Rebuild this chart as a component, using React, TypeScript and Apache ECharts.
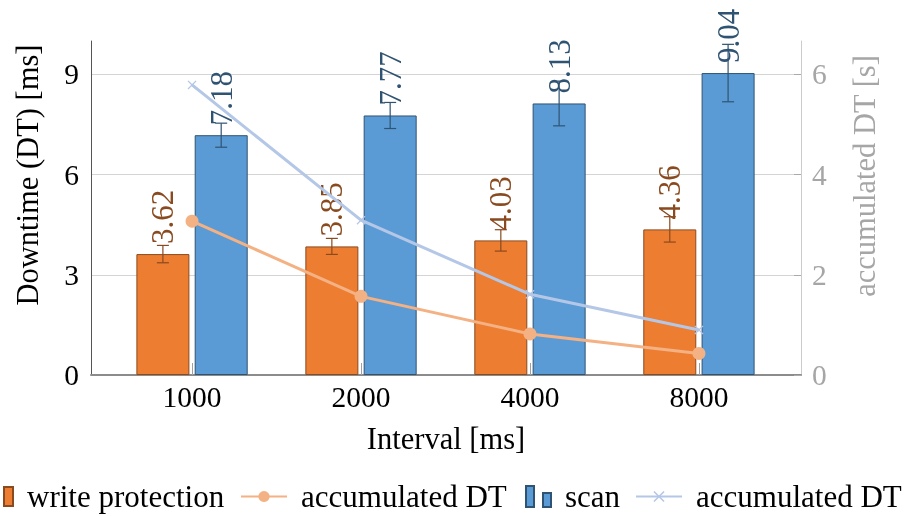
import React, { useEffect, useRef } from 'react';
import * as echarts from 'echarts';

const categories = ['1000', '2000', '4000', '8000'];
const writeProtection = [3.62, 3.85, 4.03, 4.36];
const writeProtectionErr = [0.26, 0.24, 0.32, 0.38];
const scan = [7.18, 7.77, 8.13, 9.04];
const scanErr = [0.36, 0.39, 0.67, 0.86];
const accWriteProtection = [3.07, 1.57, 0.82, 0.43];
const accScan = [5.79, 3.09, 1.61, 0.9];
const leftTicks = [0, 3, 6, 9];
const rightTicks = [0, 2, 4, 6];
const catTicks = [0, 1, 2, 3];

const FONT = 'Liberation Serif';
const BAR_W = 53;
const BAR_GAP = 0.1;
const OFFSET = (BAR_W + BAR_W * BAR_GAP) / 2;

const ORANGE = '#ed7d31';
const ORANGE_DARK = '#8a4a1f';
const BLUE = '#5b9bd5';
const BLUE_DARK = '#2f5372';
const ORANGE_LIGHT = '#f4b183';
const BLUE_LIGHT = '#b4c7e7';

function errSeries(name: string, vals: number[], errs: number[], off: number, color: string) {
  return {
    type: 'custom',
    name,
    data: vals.map((v, i) => [i, v - errs[i], v + errs[i]]),
    encode: { x: 0, y: [1, 2] },
    z: 4,
    silent: true,
    renderItem: (_p: any, api: any) => {
      const lo = api.coord([api.value(0), api.value(1)]);
      const hi = api.coord([api.value(0), api.value(2)]);
      const x = lo[0] + off;
      const cap = 6;
      const style = { stroke: color, lineWidth: 1.2 };
      return {
        type: 'group',
        children: [
          { type: 'line', shape: { x1: x, y1: lo[1], x2: x, y2: hi[1] }, style },
          { type: 'line', shape: { x1: x - cap, y1: lo[1], x2: x + cap, y2: lo[1] }, style },
          { type: 'line', shape: { x1: x - cap, y1: hi[1], x2: x + cap, y2: hi[1] }, style },
        ],
      };
    },
  };
}

function barLabel(color: string) {
  return {
    show: true,
    position: 'top',
    rotate: 90,
    align: 'left',
    verticalAlign: 'middle',
    distance: 10,
    color,
    fontSize: 31,
    fontFamily: FONT,
    formatter: (p: any) => Number(p.value[1]).toFixed(2),
  };
}

const legendText = { fontFamily: FONT, fontSize: 31, color: '#000', padding: [0, 0, 0, 9] };

export default function App() {
  const ref = useRef<HTMLDivElement>(null);
  useEffect(() => {
    if (!ref.current) return;
    const chart = echarts.init(ref.current, undefined, { renderer: 'svg' });
    const option: any = {
      animation: false,
      textStyle: { fontFamily: FONT },
      grid: { left: 91, right: 107, top: 41, bottom: 141, containLabel: false },
      xAxis: {
        type: 'value',
        min: -0.598,
        max: 3.604,
        axisLine: { show: true, onZero: false, lineStyle: { color: '#8c8c8c', width: 2 } },
        axisTick: { show: true, inside: true, length: 12, customValues: catTicks, lineStyle: { color: '#a0a0a0' } },
        axisLabel: {
          customValues: catTicks,
          formatter: (v: number) => categories[Math.round(v)] ?? '',
          fontSize: 29.5,
          color: '#000',
          margin: 7,
          fontFamily: FONT,
        },
        splitLine: { show: false },
        name: 'Interval [ms]',
        nameLocation: 'middle',
        nameGap: 48,
        nameTextStyle: { fontSize: 30.5, color: '#000', fontFamily: FONT },
      },
      yAxis: [
        {
          type: 'value',
          min: 0,
          max: 10,
          position: 'left',
          axisLine: { show: true, onZero: false, lineStyle: { color: '#555', width: 1 } },
          axisTick: { show: false, customValues: leftTicks },
          axisLabel: { customValues: leftTicks, fontSize: 29.5, color: '#000', margin: 12, fontFamily: FONT },
          splitLine: { show: true, lineStyle: { color: '#d4d4d4', width: 1 } },
        },
        {
          type: 'value',
          min: 0,
          max: 20 / 3,
          position: 'right',
          axisLine: { show: true, onZero: false, lineStyle: { color: '#cccccc', width: 1 } },
          axisTick: { show: true, inside: true, length: 7, customValues: rightTicks, lineStyle: { color: '#aaaaaa' } },
          axisLabel: { customValues: rightTicks, fontSize: 29.5, color: '#a6a6a6', margin: 11, fontFamily: FONT },
          splitLine: { show: false },
        },
      ],
      legend: [
        {
          left: 3, top: 481, padding: 0,
          data: [{ name: 'write protection', icon: 'path://M0,0H9V19H0Z' }],
          itemWidth: 9, itemHeight: 19, textStyle: legendText, selectedMode: false,
        },
        {
          left: 240, top: 481, padding: 0,
          data: [{ name: 'accumulated DT (write protection)' }],
          formatter: () => 'accumulated DT',
          itemWidth: 46, itemHeight: 14, textStyle: legendText, selectedMode: false,
        },
        {
          left: 525, top: 481, padding: 0,
          data: [{ name: 'scan', icon: 'path://M0,0H8V21H0Z M17,7H25V21H17Z' }],
          itemWidth: 25, itemHeight: 21, textStyle: legendText, selectedMode: false,
        },
        {
          left: 635, top: 481, padding: 0,
          data: [{ name: 'accumulated DT (scan)' }],
          formatter: () => 'accumulated DT',
          itemWidth: 46, itemHeight: 14, textStyle: legendText, selectedMode: false,
        },
      ],
      graphic: [
        {
          type: 'text', x: 28, y: 175, rotation: Math.PI / 2,
          style: { text: 'Downtime (DT) [ms]', fontSize: 30.5, fontFamily: FONT, fill: '#000', align: 'center', verticalAlign: 'middle' },
        },
        {
          type: 'text', x: 865, y: 176, rotation: Math.PI / 2,
          style: { text: 'accumulated DT [s]', fontSize: 30.5, fontFamily: FONT, fill: '#a6a6a6', align: 'center', verticalAlign: 'middle' },
        },
      ],
      series: [
        {
          type: 'bar',
          name: 'write protection',
          data: writeProtection.map((v, i) => [i, v]),
          barWidth: BAR_W,
          barGap: `${BAR_GAP * 100}%`,
          itemStyle: { color: ORANGE, borderColor: ORANGE_DARK, borderWidth: 1 },
          label: barLabel(ORANGE_DARK),
          z: 2,
        },
        {
          type: 'bar',
          name: 'scan',
          data: scan.map((v, i) => [i, v]),
          barWidth: BAR_W,
          barGap: `${BAR_GAP * 100}%`,
          itemStyle: { color: BLUE, borderColor: BLUE_DARK, borderWidth: 1 },
          label: barLabel(BLUE_DARK),
          z: 2,
        },
        errSeries('write protection error', writeProtection, writeProtectionErr, -OFFSET, ORANGE_DARK),
        errSeries('scan error', scan, scanErr, OFFSET, BLUE_DARK),
        {
          type: 'line',
          name: 'accumulated DT (write protection)',
          yAxisIndex: 1,
          data: accWriteProtection.map((v, i) => [i, v]),
          symbol: 'circle',
          symbolSize: 13,
          lineStyle: { color: ORANGE_LIGHT, width: 3 },
          itemStyle: { color: ORANGE_LIGHT },
          z: 5,
        },
        {
          type: 'line',
          name: 'accumulated DT (scan)',
          yAxisIndex: 1,
          data: accScan.map((v, i) => [i, v]),
          symbol: 'path://M1,0L5,4L9,0L10,1L6,5L10,9L9,10L5,6L1,10L0,9L4,5L0,1Z',
          symbolSize: 9,
          lineStyle: { color: BLUE_LIGHT, width: 3 },
          itemStyle: { color: BLUE_LIGHT },
          z: 5,
        },
      ],
    };
    chart.setOption(option);
    return () => chart.dispose();
  }, []);
  return <div ref={ref} style={{ position: 'fixed', left: 0, top: 0, width: 908, height: 516 }} />;
}
